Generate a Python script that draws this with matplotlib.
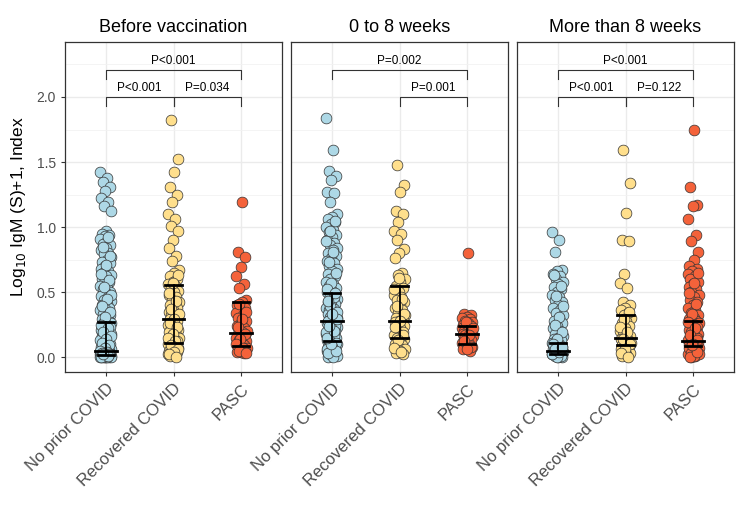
import matplotlib
matplotlib.use("Agg")
import matplotlib.pyplot as plt
import numpy as np

plt.rcParams['font.family'] = ['Liberation Sans', 'DejaVu Sans']

panels = ["Before vaccination", "0 to 8 weeks", "More than 8 weeks"]
groups = ["No prior COVID", "Recovered COVID", "PASC"]
colors = ["#ADD8E6", "#FFDF8C", "#F4623A"]

# Before vaccination
bv_none = [1.42, 1.38, 1.35, 1.31, 1.28, 1.22, 1.19, 1.16, 1.12,
           0.97, 0.95, 0.94, 0.93, 0.91, 0.89, 0.87, 0.86, 0.84, 0.82, 0.80, 0.79,
           0.77, 0.75, 0.73, 0.72, 0.70, 0.68, 0.66, 0.65, 0.63, 0.62, 0.60, 0.58,
           0.57, 0.55, 0.53, 0.52, 0.50, 0.49, 0.47, 0.46, 0.44, 0.43, 0.41, 0.40,
           0.38, 0.37, 0.36, 0.34, 0.33, 0.32, 0.30, 0.29, 0.28, 0.27, 0.26, 0.25,
           0.24, 0.23, 0.22, 0.21, 0.20, 0.19, 0.18, 0.17, 0.16, 0.15, 0.14, 0.13,
           0.12, 0.11, 0.10, 0.09, 0.08, 0.08, 0.07, 0.06, 0.06, 0.05, 0.05, 0.04,
           0.04, 0.04, 0.03, 0.03, 0.03, 0.03, 0.02, 0.02, 0.02, 0.02, 0.02, 0.01,
           0.01, 0.01, 0.01, 0.01, 0.01, 0.00, 0.00, 0.00, 0.00, 0.00,
           0.92, 0.85, 0.78, 0.71, 0.64, 0.59, 0.54, 0.48, 0.45, 0.39, 0.35, 0.31,
           0.25, 0.22, 0.19, 0.16, 0.14, 0.11, 0.09, 0.07, 0.05, 0.04, 0.03, 0.02,
           0.02, 0.01, 0.01, 0.00, 0.00, 0.00, 0.03, 0.02, 0.01, 0.00, 0.01, 0.02]
bv_rec = [1.82, 1.52, 1.42, 1.31, 1.25, 1.19, 1.10, 1.06, 1.01, 0.97, 0.90, 0.84,
          0.78, 0.74, 0.67, 0.65, 0.62, 0.60, 0.58, 0.56, 0.55, 0.53, 0.51, 0.50,
          0.48, 0.46, 0.44, 0.42, 0.41, 0.40, 0.38, 0.36, 0.35, 0.33, 0.32, 0.31,
          0.30, 0.29, 0.28, 0.27, 0.25, 0.24, 0.22, 0.21, 0.20, 0.19, 0.17, 0.16,
          0.15, 0.14, 0.13, 0.12, 0.11, 0.10, 0.09, 0.08, 0.07, 0.06, 0.05, 0.04,
          0.03, 0.02, 0.02, 0.01,
          0.63, 0.57, 0.49, 0.43, 0.37, 0.33, 0.29, 0.26, 0.23, 0.18, 0.15, 0.12,
          0.09, 0.06, 0.04, 0.02, 0.00]
bv_pasc = [1.19, 0.81, 0.77, 0.69, 0.62, 0.56, 0.53, 0.44, 0.42, 0.40, 0.38, 0.36,
           0.34, 0.32, 0.30, 0.28, 0.26, 0.24, 0.22, 0.21, 0.20, 0.19, 0.18, 0.17,
           0.16, 0.15, 0.14, 0.13, 0.12, 0.11, 0.10, 0.09, 0.08, 0.07, 0.06, 0.05,
           0.05, 0.04, 0.04, 0.03,
           0.41, 0.35, 0.29, 0.23, 0.18, 0.14, 0.10, 0.07, 0.05, 0.03]

# 0 to 8 weeks
w8_none = [1.84, 1.59, 1.43, 1.39, 1.36, 1.27, 1.26, 1.19, 1.10, 1.08, 1.06, 1.04,
           1.02, 1.00, 0.98, 0.96, 0.94, 0.92, 0.90, 0.88, 0.86, 0.84, 0.82, 0.80,
           0.78, 0.76, 0.74, 0.72, 0.70, 0.68, 0.66, 0.64, 0.62, 0.60, 0.58, 0.56,
           0.55, 0.53, 0.51, 0.50, 0.48, 0.47, 0.45, 0.44, 0.42, 0.41, 0.40, 0.38,
           0.37, 0.36, 0.35, 0.34, 0.33, 0.32, 0.31, 0.30, 0.29, 0.28, 0.27, 0.27,
           0.26, 0.25, 0.24, 0.23, 0.22, 0.21, 0.20, 0.19, 0.18, 0.17, 0.16, 0.15,
           0.14, 0.13, 0.12, 0.11, 0.10, 0.09, 0.08, 0.07, 0.06, 0.05, 0.04, 0.03,
           0.02, 0.01, 0.00,
           1.05, 0.97, 0.89, 0.81, 0.73, 0.65, 0.57, 0.52, 0.46, 0.39, 0.35, 0.31,
           0.28, 0.25, 0.22, 0.19, 0.16, 0.13, 0.11, 0.08, 0.06, 0.04, 0.02, 0.01,
           0.00, 0.03, 0.05, 0.10, 0.15, 0.20, 0.24, 0.29, 0.33, 0.43, 0.49]
w8_rec = [1.48, 1.32, 1.27, 1.12, 1.10, 1.04, 0.97, 0.95, 0.90, 0.83, 0.80, 0.76,
          0.65, 0.63, 0.60, 0.58, 0.55, 0.53, 0.50, 0.48, 0.46, 0.44, 0.42, 0.40,
          0.38, 0.36, 0.34, 0.32, 0.31, 0.30, 0.29, 0.28, 0.27, 0.26, 0.25, 0.24,
          0.22, 0.20, 0.19, 0.18, 0.17, 0.16, 0.15, 0.14, 0.12, 0.10, 0.09, 0.08,
          0.06, 0.05, 0.03, 0.02,
          0.61, 0.52, 0.45, 0.39, 0.33, 0.28, 0.23, 0.17, 0.13, 0.07, 0.04]
w8_pasc = [0.80, 0.33, 0.32, 0.31, 0.30, 0.29, 0.28, 0.27, 0.26, 0.25, 0.24, 0.23,
           0.22, 0.21, 0.20, 0.19, 0.19, 0.18, 0.18, 0.17, 0.16, 0.15, 0.14, 0.13,
           0.12, 0.11, 0.10, 0.09, 0.08, 0.07, 0.06, 0.05,
           0.27, 0.22, 0.17, 0.12, 0.08, 0.06]

# More than 8 weeks
m8_none = [0.96, 0.90, 0.81, 0.67, 0.66, 0.64, 0.62, 0.60, 0.58, 0.56, 0.54, 0.52,
           0.50, 0.48, 0.46, 0.44, 0.42, 0.40, 0.38, 0.36, 0.34, 0.32, 0.30, 0.28,
           0.26, 0.24, 0.22, 0.20, 0.18, 0.16, 0.15, 0.14, 0.13, 0.12, 0.11, 0.10,
           0.09, 0.08, 0.07, 0.06, 0.05, 0.05, 0.04, 0.04, 0.03, 0.03, 0.02, 0.02,
           0.01, 0.01, 0.00, 0.00,
           0.63, 0.55, 0.47, 0.39, 0.31, 0.25, 0.19, 0.14, 0.10, 0.07, 0.05, 0.04,
           0.03, 0.02, 0.01, 0.00, 0.02, 0.04, 0.06, 0.08]
m8_rec = [1.59, 1.34, 1.11, 0.90, 0.89, 0.64, 0.57, 0.53, 0.42, 0.40, 0.38, 0.36,
          0.34, 0.32, 0.30, 0.28, 0.26, 0.24, 0.22, 0.20, 0.18, 0.17, 0.16, 0.15,
          0.14, 0.13, 0.12, 0.11, 0.10, 0.09, 0.08, 0.07, 0.06, 0.05, 0.04, 0.03,
          0.02, 0.01,
          0.35, 0.29, 0.23, 0.19, 0.14, 0.10, 0.06, 0.03, 0.00]
m8_pasc = [1.75, 1.31, 1.17, 1.16, 1.06, 0.94, 0.89, 0.81, 0.75, 0.70, 0.68, 0.66,
           0.64, 0.62, 0.60, 0.58, 0.56, 0.54, 0.52, 0.50, 0.48, 0.46, 0.44, 0.42,
           0.40, 0.38, 0.36, 0.34, 0.32, 0.30, 0.29, 0.28, 0.27, 0.26, 0.25, 0.24,
           0.23, 0.22, 0.21, 0.20, 0.19, 0.18, 0.17, 0.16, 0.15, 0.14, 0.13, 0.12,
           0.12, 0.11, 0.10, 0.09, 0.08, 0.08, 0.07, 0.06, 0.05, 0.04, 0.03, 0.02,
           0.01, 0.00,
           0.65, 0.57, 0.49, 0.41, 0.33, 0.27, 0.22, 0.17, 0.13, 0.10, 0.07, 0.05,
           0.03, 0.02, 0.01, 0.00, 0.04, 0.09]

values = [[bv_none, bv_rec, bv_pasc],
          [w8_none, w8_rec, w8_pasc],
          [m8_none, m8_rec, m8_pasc]]

# median, first quartile, third quartile per panel / group
medians = [[0.044, 0.295, 0.182], [0.274, 0.28, 0.18], [0.05, 0.146, 0.126]]
q1s = [[0.018, 0.108, 0.082], [0.126, 0.15, 0.097], [0.026, 0.095, 0.082]]
q3s = [[0.27, 0.556, 0.42], [0.49, 0.55, 0.24], [0.108, 0.32, 0.28]]

# brackets: (from group, to group, level, label)
brackets = [
    [(1, 3, 2.21, "P<0.001"), (1, 2, 2.0, "P<0.001"), (2, 3, 2.0, "P=0.034")],
    [(1, 3, 2.21, "P=0.002"), (2, 3, 2.0, "P=0.001")],
    [(1, 3, 2.21, "P<0.001"), (1, 2, 2.0, "P<0.001"), (2, 3, 2.0, "P=0.122")],
]

W, H = 744, 521
fig = plt.figure(figsize=(W / 100, H / 100), dpi=100)
lefts = [65, 291, 517]
pw = 217
top, bottom = 42, 372

for p, name in enumerate(panels):
    ax = fig.add_axes([lefts[p] / W, 1 - bottom / H, pw / W, (bottom - top) / H])
    ax.set_xlim(0.4, 3.6)
    ax.set_ylim(-0.115, 2.423)
    ax.set_yticks([0, 0.5, 1.0, 1.5, 2.0])
    ax.set_yticks([0.25, 0.75, 1.25, 1.75, 2.25], minor=True)
    ax.set_xticks([1, 2, 3])
    ax.grid(which='major', color='#EBEBEB', lw=1.0, zorder=0)
    ax.grid(which='minor', axis='y', color='#F2F2F2', lw=0.6, zorder=0)
    ax.set_axisbelow(True)
    for s in ax.spines.values():
        s.set_color('#333333')
        s.set_linewidth(0.9)
    ax.tick_params(which='major', length=3, width=0.8, color='#333333')
    ax.tick_params(which='minor', length=0)
    ax.set_xticklabels(groups, rotation=45, ha='right', va='top',
                       rotation_mode='anchor', fontsize=12, color='#4D4D4D')
    if p == 0:
        ax.set_yticklabels(["0.0", "0.5", "1.0", "1.5", "2.0"], fontsize=10, color='#4D4D4D')
        ax.set_ylabel("Log$_{10}$ IgM (S)+1, Index", fontsize=12.5, labelpad=6)
    else:
        ax.tick_params(axis='y', which='both', left=False, labelleft=False)
    ax.set_title(name, fontsize=13, pad=7)

    for g in range(3):
        y = np.array(values[p][g])
        idx = np.arange(len(y))
        jit = ((idx * 0.6180339 + 0.3 * g) % 1.0) * 2 - 1
        x = (g + 1) + 0.085 * jit
        ax.scatter(x, y, s=60, color=colors[g], edgecolor='#333333',
                   linewidth=0.5, zorder=3)
        c = g + 1
        ax.plot([c, c], [q1s[p][g], q3s[p][g]], color='black', lw=1.3, zorder=4)
        ax.plot([c - 0.12, c + 0.12], [q1s[p][g]] * 2, color='black', lw=2.0, zorder=4)
        ax.plot([c - 0.12, c + 0.12], [q3s[p][g]] * 2, color='black', lw=2.0, zorder=4)
        ax.plot([c - 0.16, c + 0.16], [medians[p][g]] * 2, color='black', lw=2.0, zorder=4)

    for a, b, lev, lab in brackets[p]:
        ax.plot([a, a, b, b], [lev - 0.068, lev, lev, lev - 0.068],
                color='#333333', lw=0.8, zorder=4)
        ax.text((a + b) / 2, lev + 0.02, lab, ha='center', va='bottom',
                fontsize=8.5, color='black')

fig.savefig("out.png", dpi=100)
